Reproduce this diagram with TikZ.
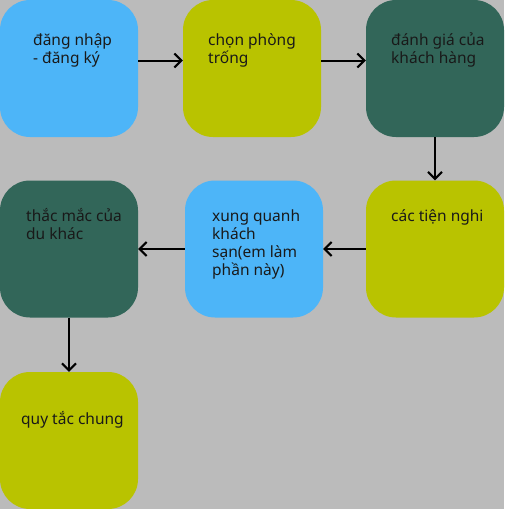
\documentclass[tikz,border=0pt]{standalone}
\usepackage{fontspec}
\setmainfont{Noto Sans}
\usetikzlibrary{arrows.meta}
\definecolor{bg}{RGB}{187,187,187}
\definecolor{sky}{RGB}{77,181,248}
\definecolor{olive}{RGB}{185,195,0}
\definecolor{pine}{RGB}{50,102,89}
\tikzset{
  box/.style={rounded corners=30pt, minimum width=138pt, minimum height=137pt, inner sep=0pt},
  lbl/.style={anchor=base west, inner sep=0pt, align=left,
    font=\fontsize{15.5}{18}\selectfont, text=black!90}
}
\begin{document}
\begin{tikzpicture}[x=1pt,y=-1pt]
      \fill[bg] (0,0) rectangle (504,509);
      \useasboundingbox (0,0) rectangle (504,509);
      \draw
        (69,68.5) node[box,fill=sky] (1){}
        (252,68.5) node[box,fill=olive] (2){}
        (435,68.5) node[box,fill=pine] (3){}
        (435,249) node[box,fill=olive] (4){}
        (254,249) node[box,fill=sky] (5){}
        (69,249) node[box,fill=pine] (6){}
        (69,440.5) node[box,fill=olive] (7){};
      % base = last line
      \draw
        (33,63.5) node[lbl] (t1){đăng nhập\\- đăng ký}
        (208,63.5) node[lbl] (t2){chọn phòng\\trống}
        (391,63.5) node[lbl] (t3){đánh giá của\\khách hàng}
        (391,221) node[lbl] (t4){các tiện nghi}
        (212,275) node[lbl] (t5){xung quanh\\khách\\sạn(em làm\\phần này)}
        (26,239) node[lbl] (t6){thắc mắc của\\du khác}
        (21,424) node[lbl] (t7){quy tắc chung};
      \begin{scope}[-{Straight Barb[length=7pt,width=14pt]}, line width=2pt]
        \draw ([yshift=8pt]1.east) to ([yshift=8pt]2.west);
        \draw ([yshift=8pt]2.east) to ([yshift=8pt]3.west);
        \draw (3) to (4);
        \draw (4) to (5);
        \draw (5) to (6);
        \draw (6) to (7);
      \end{scope}
    \end{tikzpicture}
\end{document}
